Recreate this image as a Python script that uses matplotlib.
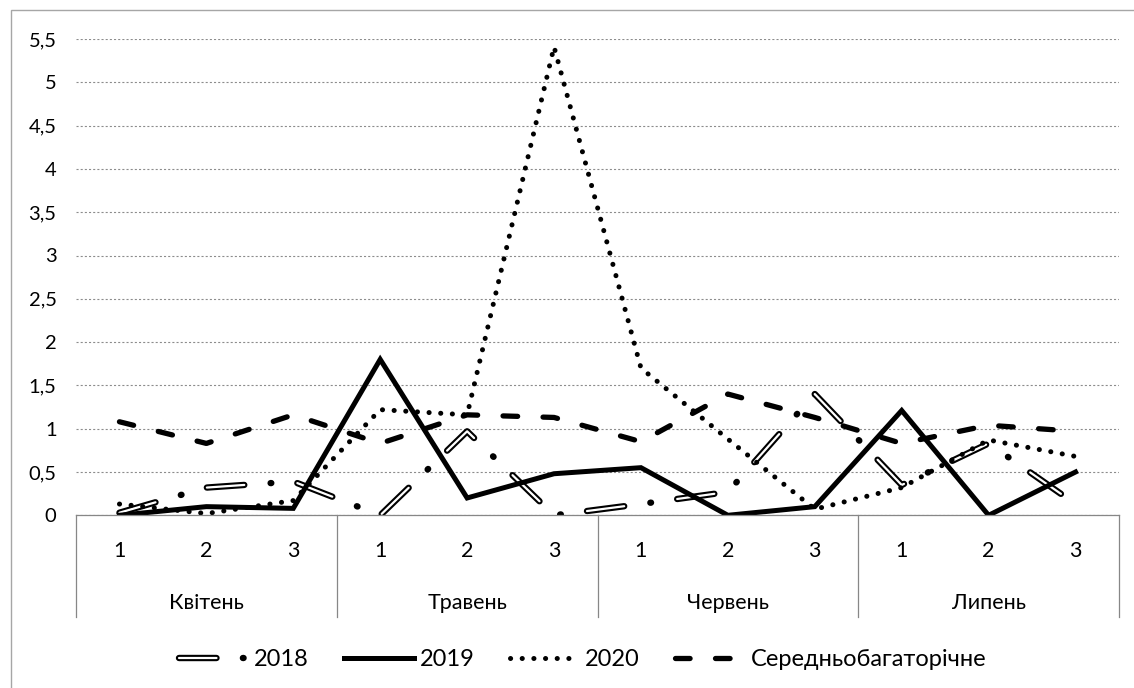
#!/usr/bin/env python
import matplotlib
matplotlib.use("Agg")
import matplotlib.pyplot as plt
from matplotlib.lines import Line2D
from matplotlib.patches import Rectangle
from matplotlib.legend_handler import HandlerTuple

# Category labels (decades inside months)
months = ["Квітень", "Травень", "Червень", "Липень"]
decades = ["1", "2", "3"]

# Series values, one per decade
s2018 = [0.03, 0.32, 0.39, 0.0, 0.97, 0.0, 0.13, 0.27, 1.40, 0.35, 0.83, 0.13]
s2019 = [0.0, 0.10, 0.08, 1.80, 0.20, 0.48, 0.55, 0.0, 0.10, 1.21, 0.0, 0.50]
s2020 = [0.13, 0.02, 0.17, 1.22, 1.16, 5.41, 1.70, 0.88, 0.07, 0.32, 0.87, 0.68]
s_avg = [1.08, 0.83, 1.16, 0.83, 1.16, 1.13, 0.85, 1.40, 1.13, 0.83, 1.04, 0.97]
names = ["2018", "2019", "2020", "Середньобагаторічне"]

# Y axis ticks
yticks = [0, 0.5, 1, 1.5, 2, 2.5, 3, 3.5, 4, 4.5, 5, 5.5]
ylabels = ["0", "0,5", "1", "1,5", "2", "2,5", "3", "3,5", "4", "4,5", "5", "5,5"]

if __name__ == "__main__":

	plt.rcParams["font.family"] = ["Lato", "DejaVu Sans"]
	plt.rcParams["lines.scale_dashes"] = False

	W, H = 1134.0, 688.0
	fig = plt.figure(figsize=(W / 100, H / 100), dpi=100)

	# Chart area border (left and top visible)
	fig.add_artist(Rectangle((11 / W, -0.5), 2.0, 1.5 - 10 / H, transform=fig.transFigure,
		fill=False, edgecolor="#a6a6a6", linewidth=1.0))

	# Plot area in pixel coordinates
	x0, x1, y0, y1 = 76.0, 1119.0, 39.0, 515.3
	ax0 = fig.add_axes([x0 / W, 1 - y1 / H, (x1 - x0) / W, (y1 - y0) / H])

	n = len(months) * len(decades)
	x = list(range(n))

	# Line styles
	dd18 = (0, (27, 19, 0.5, 19))
	dd18w = (0, (27, 38.5))
	dd20 = (0, (0.1, 8.3))
	ddavg = (0, (10.5, 18.3))

	ax0.plot(x, s2018, color="black", lw=4.6, linestyle=dd18, dash_capstyle="round", zorder=2.0)
	ax0.plot(x, s2018, color="white", lw=1.6, linestyle=dd18w, dash_capstyle="round", zorder=2.1)
	ax0.plot(x, s2019, color="black", lw=3.6, solid_joinstyle="miter", zorder=2.2)
	ax0.plot(x, s2020, color="black", lw=3.6, linestyle=dd20, dash_capstyle="round", zorder=2.3)
	ax0.plot(x, s_avg, color="black", lw=3.8, linestyle=ddavg, dash_capstyle="round", zorder=2.4)

	# Axes limits, grid, spines
	ax0.set_xlim(-0.5, n - 0.5)
	ax0.set_ylim(0, 5.5)
	ax0.set_yticks(yticks)
	ax0.set_yticklabels(ylabels, fontsize=14.5)
	ax0.set_xticks([])
	ax0.tick_params(axis="y", length=0, pad=14)
	ax0.yaxis.grid(True, color="#8c8c8c", linestyle=(0, (1.5, 1.5)), linewidth=0.8)
	ax0.set_axisbelow(True)
	for side in ["top", "right", "left"]:
		ax0.spines[side].set_visible(False)
	ax0.spines["bottom"].set_color("#878787")
	ax0.spines["bottom"].set_linewidth(0.9)

	# Two level category table below the axis
	tr = ax0.get_xaxis_transform()
	h = y1 - y0
	ybot = -(617 - y1) / h
	for k in range(len(months) + 1):
		xb = k * len(decades) - 0.5
		ax0.plot([xb, xb], [0, ybot], color="#878787", lw=0.9, transform=tr, clip_on=False)
	for i in range(n):
		ax0.text(i, -(551 - y1) / h, decades[i % 3], transform=tr, ha="center", va="center", fontsize=15.5)
	for k, m in enumerate(months):
		ax0.text(k * 3 + 1, -(603 - y1) / h, m, transform=tr, ha="center", va="center", fontsize=15.5)

	# Legend
	h18b = Line2D([], [], color="black", lw=4.6, linestyle=dd18, dash_capstyle="round")
	h18w = Line2D([], [], color="white", lw=1.6, linestyle=dd18w, dash_capstyle="round")
	h19 = Line2D([], [], color="black", lw=3.6)
	h20 = Line2D([], [], color="black", lw=3.6, linestyle=dd20, dash_capstyle="round")
	havg = Line2D([], [], color="black", lw=3.8, linestyle=ddavg, dash_capstyle="round")
	fs = 17
	fig.legend([(h18b, h18w), h19, h20, havg], names, loc="center",
		bbox_to_anchor=(582.5 / W, 1 - 660 / H), ncol=4, frameon=False, fontsize=fs,
		handler_map={tuple: HandlerTuple(ndivide=1, pad=0)},
		handlelength=50 / fs, handletextpad=0.25, columnspacing=1.5)

	fig.savefig("out.png", dpi=100)
